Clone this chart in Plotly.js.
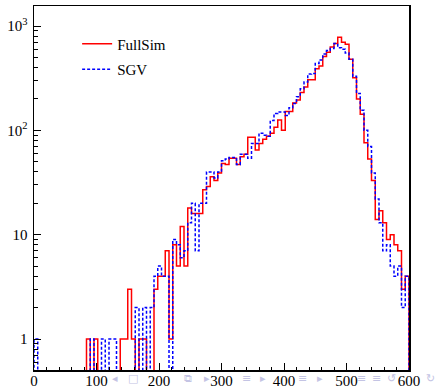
<!DOCTYPE html>
<html><head><meta charset="utf-8">
<script src="https://cdn.plot.ly/plotly-3.0.1.min.js"></script>
<style>html,body{margin:0;padding:0;background:#fff}#chart{width:437px;height:388px}</style>
</head><body><div id="chart"></div>
<script>
// Histogram binning (x units)
const binLow = 0;
const binWidth = 6;

// Bin contents (100 bins, 0..600)
const fullSimCounts = [
  0,0,0,0,0,0,0,0,0,0,
  0,0,0,0,1,0,1,0,0,0,
  0,0,0,1,1,3,1,0,1,1,
  0,0,3,4,4,7,1,8,5,12,
  5,18,16,16,16,27,29,36,33,39,
  48,47,54,54,47,56,59,86,86,65,
  75,82,88,94,107,126,100,152,152,183,
  195,230,260,305,305,390,415,510,560,630,
  680,780,700,670,480,320,200,143,76,53,
  33,14,17,13,9,10,8,7,3,4
];
const sgvCounts = [
  1,0,0,0,0,0,0,0,0,0,
  0,0,0,0,0,1,0,0,1,0,
  1,1,0,0,0,0,0,2,0,2,
  0,2,4,5,4,4,0,9,8,6,
  7,13,20,7,20,20,40,40,35,40,
  51,53,55,55,47,59,59,54,75,75,
  94,90,88,124,145,150,150,139,165,181,
  210,250,290,346,350,438,473,540,582,610,
  680,620,600,550,480,330,226,156,100,70,
  39,22,13,7,8,5,4,5,2,4
];

const seriesNames = ['FullSim', 'SGV'];
const xTickVals = [0, 100, 200, 300, 400, 500, 600];
const yTickVals = [1, 10, 100, 1000];
const yTickText = ['1', '10', '10<sup>2</sup>', '10<sup>3</sup>'];

// Slide navigation glyphs (faint, along the bottom of the picture)
const navGlyphs = ['◂', '□', '⧉', '▸', '≡', '▸', '≡', '▸', '≡', '≡', '↺', '↻'];
const navPos = [0.216, 0.264, 0.411, 0.461, 0.568, 0.611, 0.715, 0.763, 0.872, 0.912, 0.952, 1.056];

function stepTrace(counts, name, color, dash, group) {
  const floor = 0.01; // empty bins drawn down to the frame bottom
  const xs = [binLow], ys = [floor];
  counts.forEach((c, i) => { xs.push(binLow + i * binWidth); ys.push(c > 0 ? c : floor); });
  const xEnd = binLow + counts.length * binWidth;
  const last = counts[counts.length - 1];
  xs.push(xEnd); ys.push(last > 0 ? last : floor);
  xs.push(xEnd); ys.push(floor);
  return {
    type: 'scatter', mode: 'lines', x: xs, y: ys, name: name,
    legendgroup: group, hoverinfo: 'skip',
    line: { shape: 'hv', color: color, width: 1.5, dash: dash }
  };
}

const data = [
  stepTrace(fullSimCounts, seriesNames[0], '#ff0000', 'solid', 'g1'),
  stepTrace(sgvCounts, seriesNames[1], '#0000ff', '3px,2px', 'g2')
];

const axisCommon = {
  ticks: 'inside', ticklen: 7, tickwidth: 1, tickcolor: '#000',
  showline: true, linecolor: '#000', linewidth: 1.5, mirror: true,
  showgrid: false, zeroline: false,
  tickfont: { family: 'Liberation Serif, Times New Roman, serif', size: 15, color: '#000' }
};

const annotations = navGlyphs.map((g, i) => ({
  text: g, xref: 'paper', yref: 'paper', x: navPos[i], y: -0.022,
  xanchor: 'center', yanchor: 'middle', showarrow: false,
  font: { family: 'DejaVu Sans, sans-serif', size: 11, color: '#c4c4e4' }
}));

const layout = {
  width: 437, height: 388,
  margin: { l: 34, r: 28, t: 6, b: 18 },
  paper_bgcolor: '#ffffff', plot_bgcolor: '#ffffff',
  font: { family: 'Liberation Serif, Times New Roman, serif', size: 15, color: '#000' },
  xaxis: Object.assign({}, axisCommon, {
    range: [0, 600], tickmode: 'array', tickvals: xTickVals, ticklabelstandoff: -4,
    minor: { dtick: 20, ticks: 'inside', ticklen: 3.5, tickcolor: '#000', showgrid: false }
  }),
  yaxis: Object.assign({}, axisCommon, {
    type: 'log', range: [-0.297, 3.192], tickmode: 'array',
    tickvals: yTickVals, ticktext: yTickText, ticklabelstandoff: 2,
    minor: { dtick: 'D1', ticks: 'inside', ticklen: 3.5, tickcolor: '#000', showgrid: false }
  }),
  showlegend: true,
  legend: {
    x: 0.115, y: 0.941, xanchor: 'left', yanchor: 'top',
    bgcolor: 'rgba(0,0,0,0)', borderwidth: 0, tracegroupgap: 3,
    font: { family: 'Liberation Serif, Times New Roman, serif', size: 15, color: '#000' }
  },
  annotations: annotations
};

Plotly.newPlot('chart', data, layout, { staticPlot: true, displayModeBar: false });
</script>
</body></html>
